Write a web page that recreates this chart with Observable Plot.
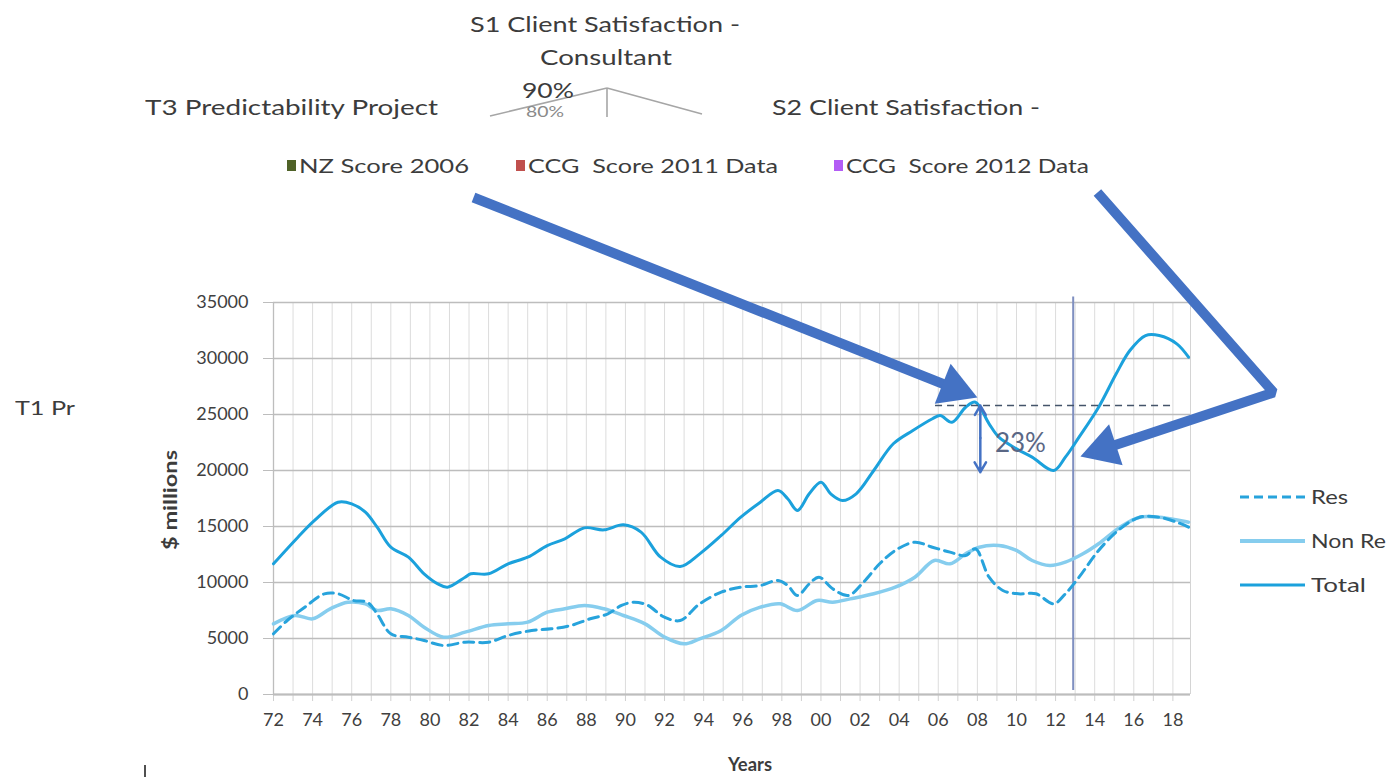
<!DOCTYPE html>
<html><head><meta charset="utf-8">
<script src="https://cdn.jsdelivr.net/npm/d3@7"></script>
<script src="https://cdn.jsdelivr.net/npm/@observablehq/plot@0.6"></script>
<style>
body{margin:0;background:#fff;}
#wrap{position:relative;width:1397px;height:777px;overflow:hidden;font-family:Lato,"Open Sans",sans-serif;color:#404040;background:#fff;}
.t{position:absolute;white-space:pre;line-height:1;}
#topclip{position:absolute;left:0;top:0;width:1397px;height:124px;overflow:hidden;}
</style></head>
<body><div id="wrap"><div id="topclip"></div></div>
<script>
// ---------- data ----------
const totalYears = [1972,1973.25,1974.1,1975.3,1976,1976.7,1977.3,1978,1978.9,1979.7,1980.4,1980.9,1981.8,1982.1,1983,1984,1985,1986,1986.9,1987.9,1988.9,1989.9,1990.8,1991.8,1992.8,1993.8,1994.9,1995.9,1996.9,1997.8,1998.3,1998.8,1999.4,2000,2000.5,2001.1,2001.8,2002.7,2003.7,2004.7,2005.7,2006.1,2006.7,2007.4,2007.9,2008.6,2009.1,2010,2010.8,2011.9,2012.5,2013.2,2014.2,2015.1,2015.8,2016.6,2017.3,2018.2,2018.8];
const totalValues = [11670,14045,15536,17170,17027,16280,14940,13150,12260,10775,9880,9580,10475,10775,10775,11670,12260,13300,13900,14880,14700,15150,14500,12260,11430,12560,14200,15830,17170,18215,17475,16430,17920,18960,17920,17320,17920,20000,22385,23570,24620,24910,24310,25650,26100,24170,22975,21940,21190,20000,21190,22975,25650,28635,30715,32050,32050,31310,30120];

const resYears = [1972,1972.7,1973.6,1974.6,1975.3,1976.1,1976.8,1977.3,1978,1978.9,1979.7,1980.7,1981.8,1983,1984,1985.2,1986.2,1987.2,1988.2,1989.1,1989.8,1990.4,1991.1,1992,1992.8,1993.8,1994.9,1995.9,1996.9,1997.8,1998.3,1998.8,1999.4,1999.9,2000.6,2001.4,2002.1,2003,2003.8,2004.8,2005.7,2006.6,2007.4,2007.9,2008.6,2009.3,2010.1,2011,2011.9,2012.5,2013.2,2014.2,2015.3,2016.3,2017.3,2018.2,2018.8];
const resValues = [5420,6607,7795,8990,8990,8390,8240,7200,5420,5120,4820,4375,4670,4670,5270,5715,5865,6160,6760,7200,7950,8240,8000,6900,6607,8100,9135,9580,9730,10180,9730,8840,9880,10475,9435,8840,9880,11670,12860,13600,13150,12710,12410,13010,10475,9290,8990,8990,8100,8990,10475,12860,14795,15830,15830,15385,14940];

const nonResYears = [1972,1973.1,1974,1974.9,1975.8,1976.7,1977.3,1978,1978.9,1979.7,1980.7,1981.8,1983,1984,1985,1986,1986.9,1987.9,1988.9,1989.9,1991,1992,1993,1993.8,1994.9,1995.9,1996.9,1997.9,1998.8,1999.8,2000.6,2001.5,2002.7,2003.8,2004.8,2005.8,2006.6,2007.4,2008.1,2009.1,2010,2010.8,2011.7,2012.5,2013.4,2014.2,2015.3,2016.3,2017.3,2018.8];
const nonResValues = [6310,7055,6760,7650,8240,8090,7500,7650,7055,6010,5120,5565,6160,6310,6460,7350,7650,7950,7650,7055,6310,5120,4525,4970,5715,7055,7795,8100,7500,8390,8240,8540,8990,9580,10475,11965,11670,12560,13150,13300,12860,11965,11520,11815,12560,13455,14940,15830,15830,15385];

const seriesNames = ["Res", "Non Re", "Total"];
const seriesColors = ["#27a3dc", "#86cdee", "#1ba1dc"];
const xTickYears = [1972,1974,1976,1978,1980,1982,1984,1986,1988,1990,1992,1994,1996,1998,2000,2002,2004,2006,2008,2010,2012,2014,2016,2018];
const xTickLabels = ["72","74","76","78","80","82","84","86","88","90","92","94","96","98","00","02","04","06","08","10","12","14","16","18"];
const yTickValues = [0,5000,10000,15000,20000,25000,30000,35000];
const gridYears = d3.range(1972, 2019);

// annotations (data units)
const markerYear = 2012.9;
const peakLevel = 25800;
const dropLevel = 20000;
const dropYear = 2008.15;
const dropLabel = "23%";
const arrow1Points = [[1982.23, 44375], [2008.0, 26520]];
const arrow2Points = [[2014.14, 44820], [2023.15, 26960], [2013.27, 21250]];

// ---------- layout ----------
const W = 1397, H = 777, mL = 273, mR = 207, mT = 302, mB = 83;
const xDomain = [1972, 2018.9], yDomain = [0, 35000];
const xs = d3.scaleLinear(xDomain, [mL, W - mR]);
const ys = d3.scaleLinear(yDomain, [H - mB, mT]);

const rows = (name, yrs, vals) => yrs.map((yr, i) => ({series: name, year: yr, value: vals[i]}));
const resData = rows("Res", resYears, resValues);
const nonResData = rows("Non Re", nonResYears, nonResValues);
const totalData = rows("Total", totalYears, totalValues);

const arrowColor = "#4472c4";
function arrowParts(pts, r) {
  const px = pts.map(([a, b]) => [xs(a), ys(b)]);
  const n = px.length;
  const [x0, y0] = px[n - 2], [x1, y1] = px[n - 1];
  const L = Math.hypot(x1 - x0, y1 - y0), ux = (x1 - x0) / L, uy = (y1 - y0) / L;
  const h = 2.333 * r;
  const base = [x1 - ux * (h - 3), y1 - uy * (h - 3)];
  const c = [x1 - ux * 1.555 * r, y1 - uy * 1.555 * r];
  const toData = ([a, b]) => ({year: xs.invert(a), value: ys.invert(b)});
  return {
    shaft: [...px.slice(0, n - 1), base].map(toData),
    head: [{...toData(c), angle: Math.atan2(uy, ux) * 180 / Math.PI + 90}]
  };
}
const a1 = arrowParts(arrow1Points, 16);
const a2 = arrowParts(arrow2Points, 16);

const chart = Plot.plot({
  width: W, height: H,
  marginLeft: mL, marginRight: mR, marginTop: mT, marginBottom: mB,
  x: {domain: xDomain, axis: null},
  y: {domain: yDomain, axis: null},
  style: {fontFamily: "Lato, 'Open Sans', sans-serif", fontSize: "18px", color: "#404040", background: "transparent", overflow: "visible"},
  marks: [
    Plot.gridX({ticks: gridYears, stroke: "#dcdcdc", strokeOpacity: 1}),
    Plot.ruleX([xDomain[1]], {stroke: "#d4d4d4"}),
    Plot.gridY({ticks: yTickValues, stroke: "#bdbdbd", strokeOpacity: 1, strokeWidth: 1.3}),
    Plot.axisY({ticks: yTickValues, tickSize: 10, tickPadding: 15, stroke: "#bdbdbd", fill: "#404040", tickFormat: d => String(d), label: null}),
    Plot.ruleX([xDomain[0]], {stroke: "#bdbdbd", strokeWidth: 1.3}),
    Plot.axisX({ticks: gridYears, tickSize: 7, tickFormat: () => "", stroke: "#d0d0d0", label: null}),
    Plot.axisX({ticks: xTickYears, tickSize: 0, tickPadding: 19, tickFormat: (d, i) => xTickLabels[i], fill: "#404040", label: null}),
    Plot.ruleY([0], {stroke: "#bdbdbd", strokeWidth: 2}),
    Plot.ruleX([markerYear], {y1: 35500, y2: 350, stroke: "#7f8fc0", strokeWidth: 2}),
    Plot.line(nonResData, {x: "year", y: "value", stroke: seriesColors[1], strokeWidth: 3.5, curve: "catmull-rom"}),
    Plot.line(resData, {x: "year", y: "value", stroke: seriesColors[0], strokeWidth: 3, strokeDasharray: "10,6", curve: "catmull-rom"}),
    Plot.line(totalData, {x: "year", y: "value", stroke: seriesColors[2], strokeWidth: 3, curve: "catmull-rom"}),
    Plot.ruleY([peakLevel], {x1: 2005.86, x2: 2018.13, stroke: "#44546a", strokeWidth: 1.5, strokeDasharray: "7,5"}),
    Plot.arrow([{x1: dropYear, y1: (peakLevel + dropLevel) / 2, x2: dropYear, y2: peakLevel}], {x1: "x1", y1: "y1", x2: "x2", y2: "y2", stroke: arrowColor, strokeWidth: 2.5, headLength: 7}),
    Plot.arrow([{x1: dropYear, y1: (peakLevel + dropLevel) / 2, x2: dropYear, y2: dropLevel - 150}], {x1: "x1", y1: "y1", x2: "x2", y2: "y2", stroke: arrowColor, strokeWidth: 2.5, headLength: 7}),
    Plot.text([{year: 2010.2, value: 22410, label: dropLabel}], {x: "year", y: "value", text: "label", fontSize: 26, fill: "#5a6785"}),
    Plot.line(a1.shaft, {x: "year", y: "value", stroke: arrowColor, strokeWidth: 10, strokeLinecap: "butt", strokeLinejoin: "miter", curve: "linear"}),
    Plot.dot(a1.head, {x: "year", y: "value", symbol: "triangle", r: 16, rotate: "angle", fill: arrowColor, stroke: null}),
    Plot.line(a2.shaft, {x: "year", y: "value", stroke: arrowColor, strokeWidth: 10, strokeLinecap: "butt", strokeLinejoin: "miter", curve: "linear"}),
    Plot.dot(a2.head, {x: "year", y: "value", symbol: "triangle", r: 16, rotate: "angle", fill: arrowColor, stroke: null})
  ]
});
chart.style.position = "absolute";
chart.style.left = "0px";
chart.style.top = "0px";
const wrap = document.getElementById("wrap");
wrap.insertBefore(chart, wrap.firstChild);

// ---------- texts ----------
function label(txt, x, cy, fs, w, opt = {}) {
  const d = document.createElement("div");
  d.className = "t";
  d.textContent = txt;
  d.style.fontSize = fs + "px";
  d.style.fontWeight = opt.weight || 400;
  d.style.color = opt.color || "#3c3c3c";
  (opt.parent || wrap).appendChild(d);
  const actual = d.getBoundingClientRect().width;
  const k = w ? w / actual : 1;
  d.style.left = x + "px";
  if (opt.rotate) {
    d.style.top = cy + "px";
    d.style.transformOrigin = "0 0";
    d.style.transform = `rotate(-90deg) scaleX(${k}) translate(-50%,-55%)`;
  } else {
    d.style.top = (cy - fs * 0.55) + "px";
    d.style.transformOrigin = "0 50%";
    d.style.transform = `scaleX(${k})`;
  }
  return d;
}
const topclip = document.getElementById("topclip");
// fragment of radar chart at the top (cropped in the source)
topclip.insertAdjacentHTML("beforeend",
  '<svg width="1397" height="124" style="position:absolute;left:0;top:0">' +
  '<g stroke="#a6a6a6" stroke-width="1.6" fill="none">' +
  '<line x1="607" y1="88" x2="490" y2="116"/><line x1="607" y1="88" x2="607" y2="117"/><line x1="607" y1="88" x2="702" y2="114"/>' +
  '</g></svg>');
label("S1 Client Satisfaction -", 470, 25, 21, 270, {parent: topclip});
label("Consultant", 540, 58, 21, 132, {parent: topclip});
label("90%", 522, 91, 21, 52, {parent: topclip});
label("80%", 526, 112, 15, 38, {parent: topclip, color: "#8a8a8a"});
label("T3 Predictability Project", 145, 108, 21, 293, {parent: topclip});
label("S2 Client Satisfaction -", 772, 108, 21, 268, {parent: topclip});

// top legend (from the cropped chart)
const legendItems = [["NZ Score 2006", "#4f6228", 287, 170], ["CCG  Score 2011 Data", "#c0504d", 516, 250], ["CCG  Score 2012 Data", "#b35cf5", 834, 243]];
legendItems.forEach(([t, c, x, w]) => {
  const sq = document.createElement("div");
  sq.style.cssText = `position:absolute;left:${x}px;top:160px;width:9px;height:11px;background:${c}`;
  wrap.appendChild(sq);
  label(t, x + 12, 166, 19, w);
});

label("T1 Pr", 15, 408, 20, 60);

// series legend
const legY = [497, 541, 585];
const legSvg = seriesNames.map((n, i) =>
  `<line x1="1240" x2="1305" y1="${legY[i]}" y2="${legY[i]}" stroke="${seriesColors[i]}" stroke-width="${i === 1 ? 4 : 3}" ${i === 0 ? 'stroke-dasharray="9,5"' : ''}/>`).join("");
wrap.insertAdjacentHTML("beforeend", `<svg width="1397" height="777" style="position:absolute;left:0;top:0">${legSvg}</svg>`);
const legW = [37, 75, 55];
seriesNames.forEach((n, i) => label(n, 1311, legY[i], 19, legW[i]));

label("$ millions", 170, 500, 19, 100, {weight: 700, rotate: true});
label("Years", 728, 765, 18, 44, {weight: 700});
const tick = document.createElement("div");
tick.style.cssText = "position:absolute;left:144px;top:765px;width:2px;height:12px;background:#505050";
wrap.appendChild(tick);
</script>
</body></html>
